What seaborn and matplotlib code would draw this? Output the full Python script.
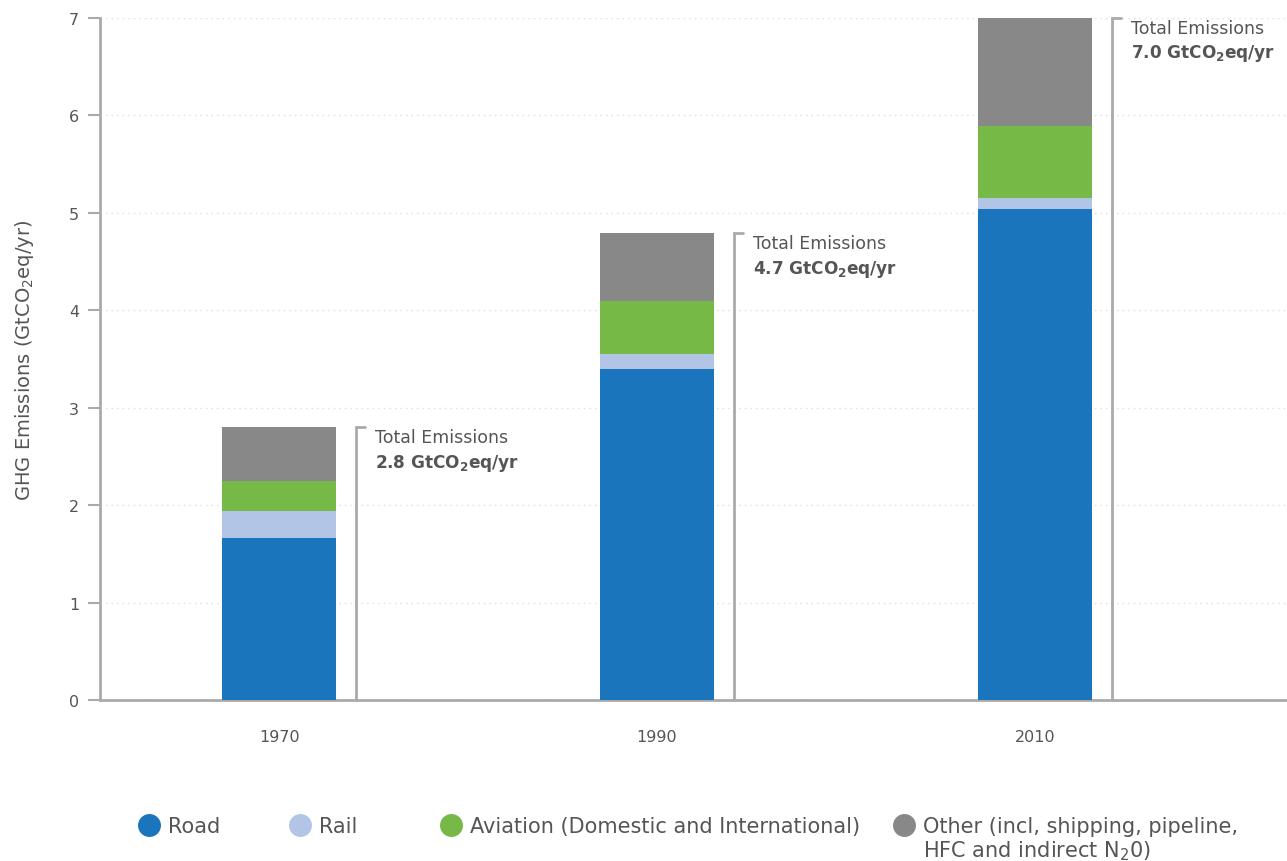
import numpy as np
import pandas as pd
import matplotlib
matplotlib.use("Agg")
import matplotlib.pyplot as plt
import seaborn as sns
from matplotlib.lines import Line2D

# data
years = ["1970", "1990", "2010"]
road = [1.66, 3.40, 5.04]
rail = [0.28, 0.15, 0.11]
aviation = [0.31, 0.55, 0.74]
other = [0.55, 0.69, 1.11]
total_labels = ["2.8", "4.7", "7.0"]

sectors = ["Road", "Rail", "Aviation (Domestic and International)",
           "Other (incl, shipping, pipeline,"]
colors = ["#1a75bc", "#b3c5e6", "#76b946", "#888888"]

sns.set_style("white")
plt.rcParams["font.family"] = ["DejaVu Sans"]
plt.rcParams["mathtext.fontset"] = "dejavusans"
plt.rcParams["mathtext.default"] = "regular"

txt = "#555555"
axis_grey = "#aaaaaa"

df = pd.DataFrame({"year": years, "Road": road, "Rail": rail,
                   "Aviation": aviation, "Other": other})
layers = ["Road", "Rail", "Aviation", "Other"]
cum = df[layers].cumsum(axis=1)

fig = plt.figure(figsize=(12.87, 8.62), dpi=100)
ax = fig.add_axes([100 / 1287, 1 - 701 / 862, 1 - 100 / 1287, (701 - 19) / 862])

# stacked bars: draw cumulative totals from top layer down
for layer, col in reversed(list(zip(layers, colors))):
    sns.barplot(data=cum.assign(year=df["year"]), x="year", y=layer,
                color=col, width=0.302, saturation=1, linewidth=0,
                ax=ax, zorder=3)

ax.set_xlim(-0.474, 2.667)
ax.set_ylim(0, 7)
ax.set_yticks(range(8))
ax.yaxis.grid(True, color="#dddddd", linestyle=(0, (1, 3)), linewidth=1, zorder=0)
ax.xaxis.grid(False)

for s in ["top", "right"]:
    ax.spines[s].set_visible(False)
for s in ["left", "bottom"]:
    ax.spines[s].set_color(axis_grey)
    ax.spines[s].set_linewidth(2)

ax.tick_params(axis="y", length=9, width=1.5, color=axis_grey, labelsize=11.5,
               labelcolor=txt, pad=6, direction="out", left=True)
ax.tick_params(axis="x", length=0, labelsize=11.5, labelcolor=txt, pad=21)
ax.set_xlabel("")
ax.set_ylabel("GHG Emissions (GtCO$_2$eq/yr)", fontsize=14, color=txt, labelpad=24)

# total emission brackets and labels
totals = cum["Other"].values
for i, (t, lab) in enumerate(zip(totals, total_labels)):
    xb = i + 0.204
    ax.plot([xb, xb, xb + 0.024], [0, t, t], color=axis_grey, lw=2,
            solid_joinstyle="miter", zorder=4, clip_on=False)
    ax.text(i + 0.254, t - 0.01, "Total Emissions", ha="left", va="top",
            fontsize=12.5, color=txt)
    ax.text(i + 0.254, t - 0.25, f"{lab} GtCO$_2$eq/yr", ha="left", va="top",
            fontsize=12.2, color=txt, fontweight="bold")

# legend along the bottom
leg_fs = 15
fs_px = leg_fs * 100 / 72
leg_x = [149, 300, 451, 904]
for name, col, xc in zip(sectors, colors, leg_x):
    h = Line2D([], [], marker="o", linestyle="none", markersize=15.5,
               markerfacecolor=col, markeredgecolor=col)
    lg = fig.legend(handles=[h], labels=[name], loc="center left",
                    bbox_to_anchor=((xc - fs_px / 2) / 1287, 1 - 827 / 862),
                    frameon=False, fontsize=leg_fs, handlelength=1.0,
                    handletextpad=(19 - fs_px / 2) / fs_px,
                    borderpad=0, borderaxespad=0)
    for t in lg.get_texts():
        t.set_color(txt)
fig.text(923 / 1287, 1 - 851 / 862,
         "HFC and indirect N$_2$0)", ha="left", va="center",
         fontsize=leg_fs, color=txt)

fig.savefig("out.png", dpi=100)
